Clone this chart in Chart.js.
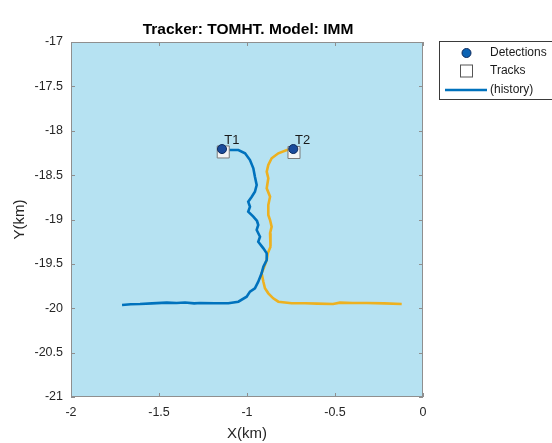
<!DOCTYPE html>
<html>
<head>
<meta charset="utf-8">
<script src="https://cdn.jsdelivr.net/npm/chart.js@4"></script>
<style>
  body { margin: 0; background: #ffffff; }
  canvas { display: block; }
</style>
</head>
<body>
<canvas id="chart" width="552" height="443"></canvas>
<script>
// track T1 history (km), from the left end up to the current position
const blueX = [-1.710, -1.660, -1.608, -1.540, -1.456, -1.400, -1.352, -1.300, -1.267, -1.182,
  -1.106, -1.049, -1.002, -0.983, -0.955, -0.936, -0.917, -0.907, -0.888, -0.888,
  -0.907, -0.936, -0.926, -0.945, -0.936, -0.943, -0.964, -0.993, -0.983, -0.993,
  -0.973, -0.955, -0.945, -0.955, -0.964, -0.983, -1.011, -1.049, -1.097, -1.140];
const blueY = [-19.963, -19.955, -19.952, -19.945, -19.937, -19.940, -19.935, -19.945, -19.941, -19.944,
  -19.944, -19.926, -19.870, -19.813, -19.775, -19.701, -19.606, -19.532, -19.456, -19.381,
  -19.325, -19.250, -19.194, -19.118, -19.062, -19.017, -18.968, -18.912, -18.856, -18.799,
  -18.743, -18.687, -18.611, -18.518, -18.423, -18.330, -18.254, -18.217, -18.217, -18.217];

// track T2 history (km), from the current position down to the right end
const yellowX = [-0.737, -0.774, -0.822, -0.860, -0.879, -0.888, -0.879, -0.888, -0.869, -0.879,
  -0.879, -0.869, -0.860, -0.869, -0.864, -0.869, -0.882, -0.888, -0.902, -0.917,
  -0.907, -0.898, -0.879, -0.851, -0.822, -0.746, -0.670, -0.600, -0.511, -0.472,
  -0.400, -0.320, -0.220, -0.121];
const yellowY = [-18.217, -18.217, -18.254, -18.310, -18.386, -18.461, -18.536, -18.648, -18.743, -18.837,
  -18.949, -19.006, -19.081, -19.155, -19.231, -19.306, -19.381, -19.456, -19.532, -19.606,
  -19.701, -19.775, -19.832, -19.888, -19.926, -19.944, -19.944, -19.948, -19.952, -19.937,
  -19.940, -19.941, -19.945, -19.952];

// detections and tracks
const detX = [-1.142, -0.737];
const detY = [-18.206, -18.206];
const trackX = [-1.135, -0.733];
const trackY = [-18.239, -18.245];
const trackLabels = ['T1', 'T2'];

// axes
const xTicks = [-2, -1.5, -1, -0.5, 0];
const yTicks = [-21, -20.5, -20, -19.5, -19, -18.5, -18, -17.5, -17];
const legendLabels = ['Detections', 'Tracks', '(history)'];

const FONT = "'Liberation Sans', Arial, sans-serif";
Chart.defaults.font.family = FONT;

function toPoints(xs, ys) {
  return xs.map((x, i) => ({ x: x, y: ys[i] }));
}

const detStyle = { pointStyle: 'circle', pointRadius: 4.5, backgroundColor: '#1b4c9c', borderColor: '#0d2a5c', borderWidth: 1 };
const trackStyle = { pointStyle: 'rect', pointRadius: 8.5, backgroundColor: '#f4f4f4', borderColor: '#7a7a7a', borderWidth: 1 };

// background, frame, inside ticks, title, track labels and legend
const decor = {
  id: 'decor',
  beforeDraw(chart) {
    const { ctx, chartArea: a } = chart;
    ctx.save();
    ctx.fillStyle = '#b6e2f2';
    ctx.fillRect(a.left, a.top, a.right - a.left, a.bottom - a.top);
    ctx.restore();
  },
  afterDatasetsDraw(chart) {
    const { ctx, chartArea: a, scales } = chart;
    ctx.save();
    // frame
    ctx.strokeStyle = '#8f8f8f';
    ctx.lineWidth = 1;
    ctx.strokeRect(a.left + 0.5, a.top + 0.5, a.right - a.left - 1, a.bottom - a.top - 1);
    // tick marks pointing inwards
    ctx.beginPath();
    xTicks.forEach(v => {
      const px = Math.round(scales.x.getPixelForValue(v)) + 0.5;
      ctx.moveTo(px, a.bottom); ctx.lineTo(px, a.bottom - 4);
      ctx.moveTo(px, a.top); ctx.lineTo(px, a.top + 4);
    });
    yTicks.forEach(v => {
      const py = Math.round(scales.y.getPixelForValue(v)) + 0.5;
      ctx.moveTo(a.left, py); ctx.lineTo(a.left + 4, py);
      ctx.moveTo(a.right, py); ctx.lineTo(a.right - 4, py);
    });
    ctx.stroke();

    // track labels
    ctx.fillStyle = '#1a1a1a';
    ctx.font = '13px ' + FONT;
    ctx.textBaseline = 'middle';
    ctx.textAlign = 'left';
    trackLabels.forEach((t, i) => {
      const px = scales.x.getPixelForValue(trackX[i]);
      const py = scales.y.getPixelForValue(trackY[i]);
      ctx.fillText(t, px + 1, py - 12);
    });

    // title
    ctx.fillStyle = '#000';
    ctx.font = 'bold 15.5px ' + FONT;
    ctx.textAlign = 'center';
    ctx.fillText('Tracker: TOMHT. Model: IMM', (a.left + a.right) / 2 + 1, 30);

    // legend
    const lx = 439.5, ly = 41.5;
    ctx.fillStyle = '#ffffff';
    ctx.fillRect(lx, ly, 120, 58);
    ctx.strokeStyle = '#3a3a3a';
    ctx.strokeRect(lx, ly, 120, 58);
    ctx.font = '12px ' + FONT;
    ctx.textAlign = 'left';
    ctx.fillStyle = '#1a1a1a';
    const rows = [53, 71, 90];
    legendLabels.forEach((t, i) => ctx.fillText(t, 490, rows[i]));
    // detection marker
    ctx.beginPath();
    ctx.arc(466.5, rows[0], 4.5, 0, Math.PI * 2);
    ctx.fillStyle = '#0b63b4';
    ctx.fill();
    ctx.strokeStyle = '#0d2a5c';
    ctx.stroke();
    // track marker
    ctx.fillStyle = '#ffffff';
    ctx.fillRect(460.5, rows[1] - 6, 12, 12);
    ctx.strokeStyle = '#555';
    ctx.strokeRect(460.5, rows[1] - 6, 12, 12);
    // history line
    ctx.beginPath();
    ctx.moveTo(445, rows[2]);
    ctx.lineTo(487, rows[2]);
    ctx.strokeStyle = '#0072BD';
    ctx.lineWidth = 2.5;
    ctx.stroke();
    ctx.restore();
  }
};

new Chart(document.getElementById('chart'), {
  type: 'scatter',
  data: {
    datasets: [
      Object.assign({ label: 'Detections', data: toPoints(detX, detY) }, detStyle),
      Object.assign({ label: 'Tracks', data: toPoints(trackX, trackY) }, trackStyle),
      {
        label: 'T1 history',
        data: toPoints(blueX, blueY),
        showLine: true,
        borderColor: '#0072BD',
        borderWidth: 2.6,
        pointRadius: 0,
        tension: 0
      },
      {
        label: 'T2 history',
        data: toPoints(yellowX, yellowY),
        showLine: true,
        borderColor: '#EDB120',
        borderWidth: 2.6,
        pointRadius: 0,
        tension: 0
      }
    ]
  },
  options: {
    responsive: false,
    animation: false,
    events: [],
    layout: { padding: { top: 42, right: 129, left: 0, bottom: 0 } },
    plugins: {
      legend: { display: false },
      tooltip: { enabled: false },
      title: { display: false }
    },
    scales: {
      x: {
        type: 'linear',
        min: -2,
        max: 0,
        afterBuildTicks: s => { s.ticks = xTicks.map(v => ({ value: v })); },
        afterFit: s => { s.height = 46; },
        grid: { display: false, drawTicks: false },
        border: { display: false },
        ticks: { color: '#262626', font: { size: 12.5 }, padding: 8, maxRotation: 0, callback: v => String(v) },
        title: { display: true, text: 'X(km)', color: '#262626', font: { size: 15 }, padding: { top: 0, bottom: 0 } }
      },
      y: {
        type: 'linear',
        min: -21,
        max: -17,
        afterBuildTicks: s => { s.ticks = yTicks.map(v => ({ value: v })); },
        afterFit: s => { s.width = 71; },
        grid: { display: false, drawTicks: false },
        border: { display: false },
        ticks: { color: '#262626', font: { size: 12.5 }, padding: 8, callback: v => String(v) },
        title: { display: true, text: 'Y(km)', color: '#262626', font: { size: 15 }, padding: { top: 11, bottom: 0 } }
      }
    }
  },
  plugins: [decor]
});
</script>
</body>
</html>
